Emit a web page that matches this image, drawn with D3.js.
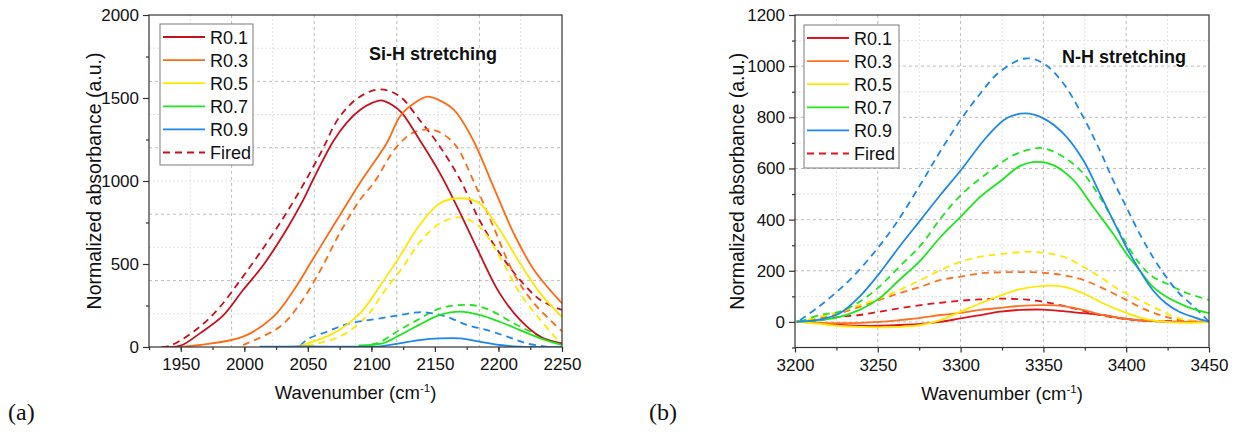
<!DOCTYPE html>
<html>
<head>
<meta charset="utf-8">
<script src="https://cdn.jsdelivr.net/npm/d3@7"></script>
<style>
  body { margin: 0; background: #fff; }
  svg text { font-family: "Liberation Sans", Arial, sans-serif; }
</style>
</head>
<body>
<div id="chart"></div>
<script>
// ---- data: [wavenumber, absorbance] ----
const seriesNames = ["R0.1", "R0.3", "R0.5", "R0.7", "R0.9"];
const seriesColors = ["#c8101e", "#ff6a13", "#ffe800", "#1ee61e", "#1e87ee"];

// Si-H panel, as-deposited (solid)
const siR01 = [[1940,0],[1950,8],[1965,82],[1983,187],[1999,343],[2015,494],[2033,705],[2046,880],[2054,1006],[2070,1240],[2081,1355],[2091,1428],[2101,1472],[2108,1486],[2117,1455],[2124,1410],[2138,1247],[2154,1046],[2170,805],[2185,564],[2201,323],[2217,163],[2233,62],[2250,22]];
const siR03 = [[1950,0],[1965,12],[1999,62],[2023,183],[2039,343],[2052,504],[2068,705],[2081,866],[2092,1000],[2112,1227],[2123,1395],[2136,1480],[2144,1508],[2152,1492],[2165,1428],[2180,1247],[2196,966],[2212,685],[2228,464],[2250,263]];
const siR05 = [[2040,0],[2044,8],[2070,82],[2091,203],[2107,370],[2123,554],[2138,735],[2154,866],[2170,896],[2185,866],[2201,705],[2217,504],[2233,323],[2250,180]];
const siR07 = [[2090,10],[2109,22],[2122,70],[2138,135],[2154,193],[2170,213],[2185,193],[2201,152],[2217,102],[2233,52],[2250,12]];
const siR09 = [[2012,2],[2045,3],[2100,2],[2107,4],[2122,22],[2138,42],[2154,52],[2170,52],[2185,32],[2201,12],[2217,2],[2250,0]];

// Si-H panel, fired (dashed)
const siR01f = [[1935,0],[1943,12],[1965,122],[1981,243],[1997,404],[2012,564],[2028,745],[2044,946],[2060,1167],[2075,1387],[2091,1508],[2107,1552],[2122,1512],[2138,1367],[2154,1207],[2170,1006],[2185,765],[2201,564],[2217,404],[2233,283],[2250,223]];
const siR03f = [[1999,12],[2028,122],[2044,263],[2060,464],[2075,685],[2091,886],[2102,990],[2120,1207],[2134,1295],[2149,1307],[2165,1227],[2180,1006],[2196,725],[2212,444],[2228,263],[2250,95]];
const siR05f = [[2049,8],[2075,62],[2096,183],[2109,323],[2125,484],[2138,630],[2154,745],[2170,781],[2185,725],[2201,544],[2217,323],[2233,163],[2248,30]];
const siR07f = [[2100,15],[2107,30],[2122,102],[2138,170],[2154,233],[2178,253],[2193,223],[2212,143],[2228,82],[2243,32],[2250,18]];
const siR09f = [[2044,8],[2050,48],[2065,92],[2081,138],[2107,173],[2123,193],[2140,210],[2159,183],[2175,133],[2191,102],[2207,62],[2222,22],[2238,2]];

// N-H panel, as-deposited (solid)
const nhR01 = [[3201,1],[3215,-5],[3227,-12],[3239,-15],[3251,-15],[3263,-12],[3276,-8],[3288,0],[3300,14],[3312,27],[3324,40],[3336,47],[3350,48],[3362,42],[3374,34],[3386,27],[3398,14],[3410,5],[3424,1],[3450,1]];
const nhR03 = [[3201,1],[3215,-4],[3227,-5],[3239,-4],[3251,0],[3263,7],[3276,16],[3288,27],[3300,35],[3312,47],[3324,55],[3336,63],[3350,66],[3362,62],[3374,47],[3386,27],[3398,14],[3410,5],[3424,1],[3450,1]];
const nhR05 = [[3201,1],[3215,-8],[3227,-16],[3239,-19],[3251,-21],[3263,-19],[3276,-12],[3288,7],[3300,40],[3312,73],[3324,103],[3336,128],[3350,141],[3362,138],[3374,112],[3386,73],[3398,40],[3410,14],[3422,1],[3437,-4],[3450,0]];
const nhR07 = [[3201,1],[3215,7],[3227,20],[3239,47],[3251,92],[3263,164],[3276,242],[3288,333],[3300,411],[3312,490],[3324,550],[3336,610],[3346,626],[3356,613],[3368,555],[3380,450],[3392,346],[3400,268],[3408,203],[3416,138],[3424,99],[3437,59],[3450,34]];
const nhR09 = [[3201,1],[3213,7],[3227,34],[3239,99],[3251,190],[3263,294],[3276,400],[3288,498],[3300,592],[3316,725],[3328,797],[3339,815],[3350,796],[3362,737],[3374,633],[3384,503],[3392,398],[3400,294],[3408,203],[3416,125],[3424,73],[3432,40],[3441,18],[3450,1]];

// N-H panel, fired (dashed)
const nhR01f = [[3201,1],[3215,7],[3227,20],[3239,27],[3251,40],[3263,53],[3276,66],[3288,75],[3300,83],[3312,88],[3324,91],[3336,89],[3348,81],[3360,66],[3372,47],[3384,27],[3396,14],[3412,5],[3428,3],[3450,1]];
const nhR03f = [[3201,1],[3215,14],[3227,34],[3239,59],[3251,86],[3263,112],[3276,138],[3288,164],[3300,177],[3312,190],[3324,194],[3336,195],[3350,192],[3362,183],[3374,164],[3388,125],[3400,86],[3412,47],[3424,20],[3437,1],[3450,1]];
const nhR05f = [[3201,1],[3215,20],[3227,40],[3239,66],[3251,92],[3263,125],[3276,164],[3288,203],[3300,235],[3312,255],[3324,265],[3342,274],[3362,255],[3374,216],[3384,177],[3396,125],[3408,86],[3420,47],[3432,14],[3450,1]];
const nhR07f = [[3203,1],[3215,27],[3227,40],[3239,79],[3251,138],[3263,216],[3276,300],[3288,405],[3300,495],[3316,581],[3332,652],[3343,676],[3350,679],[3362,646],[3374,581],[3384,489],[3392,398],[3400,307],[3408,229],[3416,177],[3424,151],[3437,112],[3450,86]];
const nhR09f = [[3203,7],[3213,53],[3223,105],[3235,177],[3249,281],[3261,385],[3276,540],[3288,670],[3300,790],[3312,894],[3324,980],[3339,1030],[3350,1011],[3362,933],[3374,802],[3384,672],[3392,555],[3400,450],[3408,346],[3416,255],[3424,177],[3432,112],[3441,59],[3450,1]];

const siTicksX = [1950, 2000, 2050, 2100, 2150, 2200, 2250];
const siTicksY = [0, 500, 1000, 1500, 2000];
const nhTicksX = [3200, 3250, 3300, 3350, 3400, 3450];
const nhTicksY = [0, 200, 400, 600, 800, 1000, 1200];

const svg = d3.select("#chart").append("svg")
  .attr("width", 1245)
  .attr("height", 436);

function drawPanel(p) {
  const x = d3.scaleLinear().domain(p.xDomain).range([p.left, p.right]);
  const y = d3.scaleLinear().domain(p.yDomain).range([p.bottom, p.top]);
  const g = svg.append("g");

  // grid (major darker, minor lighter)
  const grid = g.append("g");
  p.gridX.forEach((v, i) => {
    grid.append("line")
      .attr("x1", x(v)).attr("x2", x(v)).attr("y1", p.top).attr("y2", p.bottom)
      .attr("stroke", p.gridXMajor(i, v) ? "#bdbdbd" : "#e2e2e2")
      .attr("stroke-dasharray", p.gridXMajor(i, v) ? "3,3" : "2,2");
  });
  p.gridY.forEach((v, i) => {
    grid.append("line")
      .attr("y1", y(v)).attr("y2", y(v)).attr("x1", p.left).attr("x2", p.right)
      .attr("stroke", p.gridYMajor(i, v) ? "#bdbdbd" : "#e2e2e2")
      .attr("stroke-dasharray", p.gridYMajor(i, v) ? "3,3" : "2,2");
  });

  // curves
  const line = d3.line()
    .x(d => x(d[0]))
    .y(d => y(d[1]))
    .curve(d3.curveCatmullRom.alpha(0.5));
  const clipId = "clip" + p.id;
  svg.append("clipPath").attr("id", clipId).append("rect")
    .attr("x", p.left).attr("y", p.top)
    .attr("width", p.right - p.left).attr("height", p.bottom - p.top);
  const curves = g.append("g").attr("clip-path", `url(#${clipId})`);
  const all = [];
  p.fired.forEach((s, i) => all.push({ d: s, c: p.colors[i], dash: "7,5" }));
  p.solid.forEach((s, i) => all.push({ d: s, c: p.colors[i], dash: null }));
  curves.selectAll("path")
    .data(all)
    .join("path")
    .attr("d", s => line(s.d))
    .attr("fill", "none")
    .attr("stroke", s => s.c)
    .attr("stroke-width", 1.8)
    .attr("stroke-dasharray", s => s.dash);

  // frame
  g.append("rect")
    .attr("x", p.left).attr("y", p.top)
    .attr("width", p.right - p.left).attr("height", p.bottom - p.top)
    .attr("fill", "none").attr("stroke", "#333").attr("stroke-width", 1.2);

  // axes
  const xMinor = g.append("g").attr("transform", `translate(0,${p.bottom})`)
    .call(d3.axisBottom(x).tickValues(p.xMinor).tickSize(3).tickFormat(""));
  const xAxis = g.append("g").attr("transform", `translate(0,${p.bottom})`)
    .call(d3.axisBottom(x).tickValues(p.xTicks).tickSize(5).tickPadding(6).tickFormat(d3.format("d")));
  const yMinor = g.append("g").attr("transform", `translate(${p.left},0)`)
    .call(d3.axisLeft(y).tickValues(p.yMinor).tickSize(3).tickFormat(""));
  const yAxis = g.append("g").attr("transform", `translate(${p.left},0)`)
    .call(d3.axisLeft(y).tickValues(p.yTicks).tickSize(6).tickPadding(4).tickFormat(d3.format("d")));
  [xMinor, xAxis, yMinor, yAxis].forEach(a => {
    a.select(".domain").remove();
    a.selectAll("line").attr("stroke", "#333").attr("stroke-width", 1.2);
    a.selectAll("text").style("font-size", "17px").attr("fill", "#111")
      .style("font-family", '"Liberation Sans", Arial, sans-serif');
  });

  // axis titles
  const xt = g.append("text")
    .attr("x", (p.left + p.right) / 2)
    .attr("y", p.bottom + 52)
    .attr("text-anchor", "middle")
    .style("font-size", "18.5px").attr("fill", "#111");
  xt.append("tspan").text("Wavenumber (cm");
  xt.append("tspan").attr("dy", -7).style("font-size", "11.5px").text("-1");
  xt.append("tspan").attr("dy", 7).text(")");

  g.append("text")
    .attr("transform", `translate(${p.yLabelX},${(p.top + p.bottom) / 2}) rotate(-90)`)
    .attr("text-anchor", "middle")
    .style("font-size", "19.5px").attr("fill", "#111")
    .text("Normalized absorbance (a.u.)");

  // band annotation
  g.append("text")
    .attr("x", p.noteX).attr("y", p.noteY)
    .attr("text-anchor", "middle")
    .style("font-size", "18px").style("font-weight", "bold").attr("fill", "#111")
    .text(p.note);

  // panel letter
  g.append("text")
    .attr("x", p.letterX).attr("y", 420)
    .style("font-family", '"Liberation Serif", "DejaVu Serif", serif')
    .style("font-size", "24px").attr("fill", "#111")
    .text(p.letter);

  // legend
  const lg = g.append("g");
  lg.append("rect")
    .attr("x", p.legX).attr("y", p.legY)
    .attr("width", p.legW).attr("height", p.legH)
    .attr("fill", "#fff").attr("stroke", "#7a7a7a").attr("stroke-width", 1);
  const entries = seriesNames.map((n, i) => ({ n, c: p.colors[i], dash: null }))
    .concat([{ n: "Fired", c: p.firedColor, dash: "7,5" }]);
  entries.forEach((e, i) => {
    const yy = p.legY + 13 + i * 23.1;
    lg.append("line")
      .attr("x1", p.legX + 3).attr("x2", p.legX + 45)
      .attr("y1", yy).attr("y2", yy)
      .attr("stroke", e.c).attr("stroke-width", 1.8)
      .attr("stroke-dasharray", e.dash);
    lg.append("text")
      .attr("x", p.legX + 50).attr("y", yy + 6.5)
      .style("font-size", "18px").attr("fill", "#111")
      .text(e.n);
  });
}

drawPanel({
  id: "a", letter: "(a)", letterX: 8,
  left: 149, right: 562, top: 15, bottom: 347,
  xDomain: [1925, 2250], yDomain: [0, 2000],
  xTicks: siTicksX, yTicks: siTicksY,
  xMinor: d3.range(1925, 2251, 25), yMinor: d3.range(250, 2000, 500),
  gridX: d3.range(1, 10).map(i => 1925 + i * 32.5),
  gridXMajor: (i) => i % 2 === 1,
  gridY: d3.range(200, 2000, 200),
  gridYMajor: (i, v) => v % 400 === 0,
  colors: seriesColors,
  firedColor: "#c8101e",
  solid: [siR01, siR03, siR05, siR07, siR09],
  fired: [siR01f, siR03f, siR05f, siR07f, siR09f],
  yLabelX: 101,
  note: "Si-H stretching", noteX: 433, noteY: 59.5,
  legX: 160, legY: 24, legW: 93, legH: 141
});

drawPanel({
  id: "b", letter: "(b)", letterX: 649,
  left: 795, right: 1209, top: 15, bottom: 347.5,
  xDomain: [3200, 3450], yDomain: [-100, 1200],
  xTicks: nhTicksX, yTicks: nhTicksY,
  xMinor: d3.range(3225, 3450, 50), yMinor: d3.range(-100, 1200, 200),
  gridX: d3.range(3225, 3450, 25),
  gridXMajor: (i, v) => v % 50 === 0,
  gridY: d3.range(0, 1200, 100),
  gridYMajor: (i, v) => v % 200 === 0,
  colors: ["#e0141c", "#ff7020", "#ffe800", "#1ee61e", "#1e87ee"],
  firedColor: "#e0141c",
  solid: [nhR01, nhR03, nhR05, nhR07, nhR09],
  fired: [nhR01f, nhR03f, nhR05f, nhR07f, nhR09f],
  yLabelX: 744,
  note: "N-H stretching", noteX: 1124, noteY: 63,
  legX: 804, legY: 25, legW: 95, legH: 143
});
</script>
</body>
</html>
